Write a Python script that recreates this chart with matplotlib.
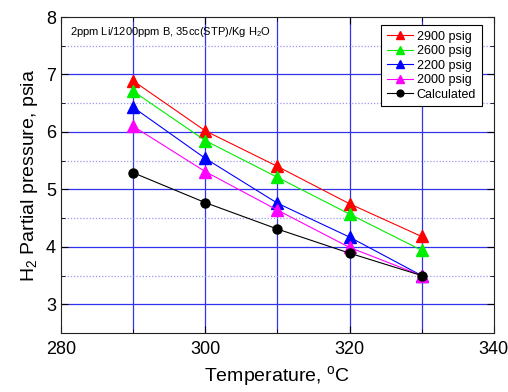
import numpy as np
import matplotlib
matplotlib.use("Agg")
import matplotlib.pyplot as plt
from matplotlib.ticker import MultipleLocator

plt.rcParams['font.family'] = ['Liberation Sans', 'DejaVu Sans']

# Datos
temps = [290, 300, 310, 320, 330]
p2900 = [6.89, 6.02, 5.40, 4.75, 4.18]
p2600 = [6.71, 5.85, 5.21, 4.57, 3.94]
p2200 = [6.43, 5.54, 4.76, 4.17, 3.50]
p2000 = [6.10, 5.31, 4.64, 3.99, 3.50]
calc = [5.29, 4.77, 4.31, 3.89, 3.50]

fig = plt.figure(figsize=(5.08, 3.92), dpi=100)
ax = fig.add_axes([0.120, 0.1505, 0.852, 0.806])

# Rejilla
for t in temps:
    ax.axvline(t, color='#3333ee', lw=0.9, zorder=0)
for y in [3, 4, 5, 6, 7]:
    ax.axhline(y, color='#3333ee', lw=0.9, zorder=0)
for y in [3.5, 4.5, 5.5, 6.5, 7.5]:
    ax.axhline(y, color='#9999ee', lw=0.9, ls=(0, (1, 1.5)), zorder=0)

ax.plot(temps, p2900, color='red', marker='^', ms=8, lw=0.8, label='2900 psig')
ax.plot(temps, p2600, color='#00ee00', marker='^', ms=8, lw=0.8, label='2600 psig')
ax.plot(temps, p2200, color='blue', marker='^', ms=8, lw=0.8, label='2200 psig')
ax.plot(temps, p2000, color='magenta', marker='^', ms=8, lw=0.8, label='2000 psig')
ax.plot(temps, calc, color='black', marker='o', ms=6.5, lw=0.8, label='Calculated')

ax.set_xlim(280, 340)
ax.set_ylim(2.5, 8)
ax.xaxis.set_major_locator(MultipleLocator(20))
ax.xaxis.set_minor_locator(MultipleLocator(10))
ax.yaxis.set_major_locator(MultipleLocator(1))
ax.yaxis.set_minor_locator(MultipleLocator(0.5))
ax.tick_params(which='both', direction='in', top=True, right=True, labelsize=13)
ax.tick_params(which='major', length=5)
ax.tick_params(which='minor', length=3)
ax.tick_params(axis='x', pad=6)
for s in ax.spines.values():
    s.set_color('#222222')

ax.set_xlabel('Temperature, $\\mathregular{^oC}$', fontsize=14)
ax.set_ylabel('H$\\mathregular{_2}$ Partial pressure, psia', fontsize=14)

ax.text(0.02, 0.975, '2ppm Li/1200ppm B, 35cc(STP)/Kg H$\\mathregular{_2}$O',
        transform=ax.transAxes, fontsize=8, va='top')

leg = ax.legend(loc='upper right', fontsize=9, fancybox=False, framealpha=1,
                edgecolor='black', handlelength=2.1, handletextpad=0.3,
                borderpad=0.45, labelspacing=0.2, markerscale=0.75,
                borderaxespad=0, bbox_to_anchor=(0.972, 0.975))
leg.get_frame().set_linewidth(0.8)

fig.savefig('out.png', dpi=100)
